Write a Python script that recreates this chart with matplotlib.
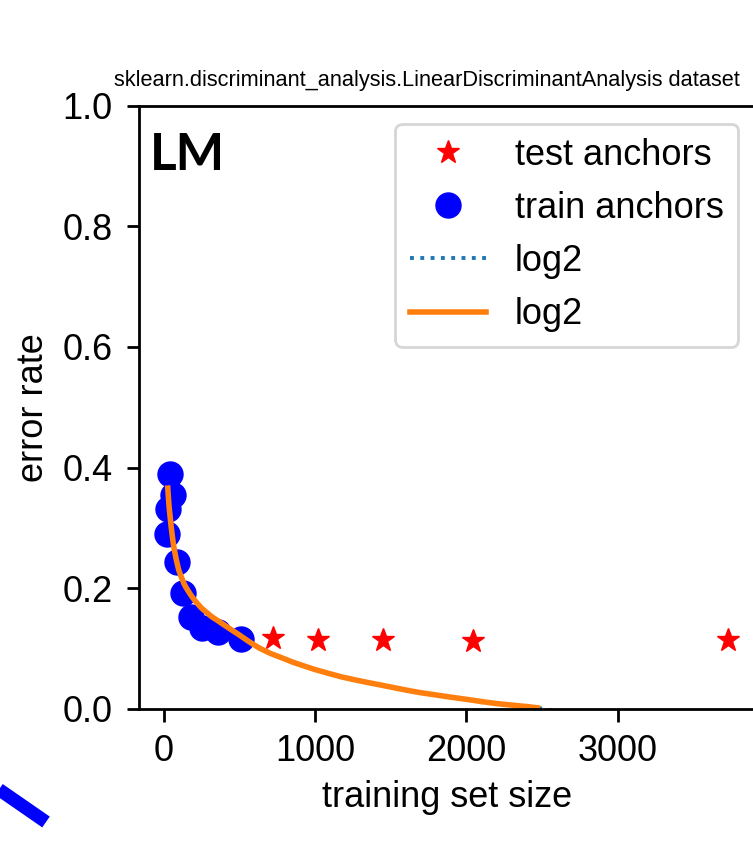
import matplotlib
matplotlib.use("Agg")
import matplotlib.pyplot as plt
from matplotlib.lines import Line2D

# anchors
train_sizes = [23, 32, 45, 64, 91, 128, 181, 256, 362, 512]
train_errors = [0.290, 0.332, 0.390, 0.355, 0.244, 0.192, 0.153, 0.134, 0.128, 0.116]
test_sizes = [724, 1024, 1448, 2048, 3730]
test_errors = [0.117, 0.115, 0.114, 0.113, 0.114]

# fitted log2 curve
curve_x = [28, 32, 36, 41, 46, 51, 57, 62, 68, 76, 84, 92, 101, 111, 122, 133, 145, 162,
           180, 200, 223, 252, 285, 318, 355, 387, 420, 453, 487, 522, 560, 600, 641,
           707, 780, 850, 920, 993, 1090, 1180, 1270, 1368, 1450, 1530, 1610, 1699,
           1780, 1860, 1945, 2029, 2110, 2200, 2280, 2360, 2420, 2470]
curve_y = [0.366, 0.352, 0.338, 0.325, 0.313, 0.301, 0.289, 0.279, 0.269, 0.258, 0.248,
           0.239, 0.230, 0.223, 0.216, 0.209, 0.203, 0.196, 0.189, 0.182, 0.175, 0.167,
           0.160, 0.153, 0.147, 0.1415, 0.136, 0.1305, 0.125, 0.119, 0.1125, 0.106, 0.100,
           0.092, 0.085, 0.078, 0.072, 0.066, 0.059, 0.053, 0.048, 0.043, 0.039, 0.035,
           0.031, 0.027, 0.024, 0.021, 0.018, 0.015, 0.012, 0.009, 0.007, 0.005, 0.0035,
           0.002]
dotted_x = curve_x + [2600]
dotted_y = curve_y + [-0.004]

title = "sklearn.discriminant_analysis.LinearDiscriminantAnalysis dataset"

plt.rcParams["font.family"] = ["Liberation Sans", "DejaVu Sans"]

W, H = 753, 849
fig = plt.figure(figsize=(W / 100, H / 100), dpi=100)
ax = fig.add_axes([139 / W, 1 - 709 / H, 617 / W, 603.5 / H])

ax.plot(test_sizes, test_errors, "*", color="red", markersize=17, label="test anchors")
ax.plot(train_sizes, train_errors, "o", color="blue", markersize=18, label="train anchors")
ax.plot(dotted_x, dotted_y, ":", color="#1f77b4", lw=2.8, label="log2")
ax.plot(curve_x, curve_y, "-", color="#ff7f0e", lw=4, label="log2")

ax.set_xlim(-162, 3915)
ax.set_ylim(0, 1.0)
ax.set_xticks([0, 1000, 2000, 3000])
ax.set_yticks([0.0, 0.2, 0.4, 0.6, 0.8, 1.0])
ax.tick_params(labelsize=26, width=2, length=9)
ax.tick_params(axis="x", pad=9)
ax.tick_params(axis="y", pad=10)
for s in ax.spines.values():
    s.set_linewidth(2)

ax.set_xlabel("training set size", fontsize=26, labelpad=8)
ax.set_ylabel("error rate", fontsize=26, labelpad=8)

ax.text(-25 / 617, 1 + 19.5 / 603.5, title, transform=ax.transAxes,
        ha="left", va="baseline", fontsize=15.7)

ax.text(11 / 617, 1 - 27 / 603.5, "LM", transform=ax.transAxes, ha="left", va="top",
        fontsize=37, fontweight="bold", family=["Lato", "DejaVu Sans"])

leg = ax.legend(loc="upper right", fontsize=26, handlelength=2.1, borderpad=0.4,
                labelspacing=0.5, handletextpad=0.8)
leg.get_frame().set_linewidth(2)

# arrow stub from the surrounding figure
fig.add_artist(Line2D([-6 / W, 46 / W], [1 - 786 / H, 1 - 822 / H], color="blue",
                      lw=9.5, solid_capstyle="butt"))

fig.savefig("out.png", dpi=100)
